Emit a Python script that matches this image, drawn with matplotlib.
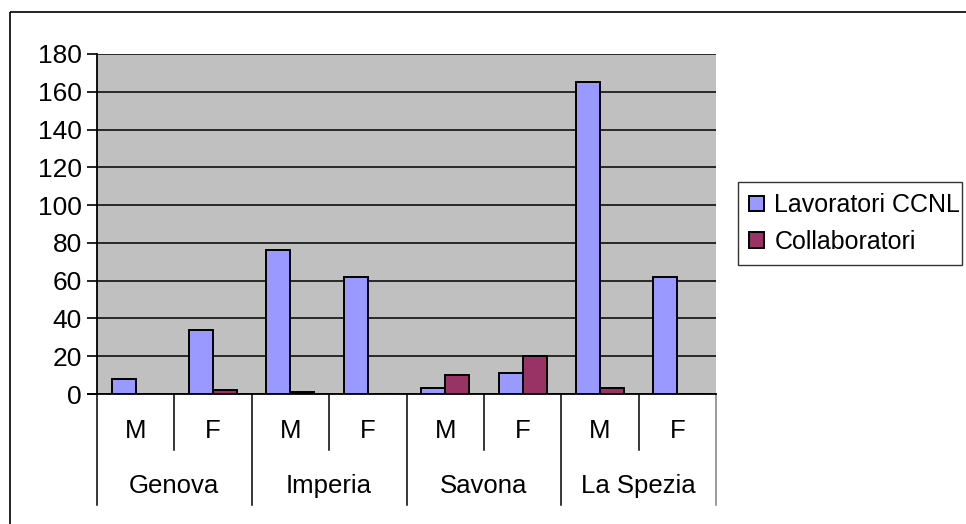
import numpy as np
import matplotlib
matplotlib.use('Agg')
import matplotlib.pyplot as plt
from matplotlib.patches import Rectangle

###############################################################################
# Data
###############################################################################
groups = ['Genova', 'Imperia', 'Savona', 'La Spezia']
sexes = ['M', 'F']
lavoratori = [8, 34, 76, 62, 3, 11, 165, 62]
collaboratori = [0, 2, 1, 0, 10, 20, 3, 0]
series = ['Lavoratori CCNL', 'Collaboratori']
yTicks = [0, 20, 40, 60, 80, 100, 120, 140, 160, 180]

###############################################################################
# Figure
###############################################################################
plt.rcParams['font.family'] = ['Liberation Sans', 'DejaVu Sans']
(W, H) = (966, 524)
fig = plt.figure(figsize=(W/100, H/100), dpi=100)
# outer frame (only top and left edges visible) -------------------------------
fig.patches.append(Rectangle(
    (10/W, 1-12/H), (W+20)/W, -(H+20)/H, transform=fig.transFigure,
    fill=False, edgecolor='k', lw=1.2, clip_on=False
))
(x0, x1, y0, y1) = (97, 716, 394, 54)
ax = fig.add_axes([x0/W, 1-y0/H, (x1-x0)/W, (y0-y1)/H])
ax.set_facecolor('#C0C0C0')

# bars ------------------------------------------------------------------------
xPos = np.arange(len(lavoratori))
bw = 0.31
ax.bar(xPos-bw/2, lavoratori, bw, color='#9999FF', edgecolor='k', lw=1.4,
       label=series[0], zorder=3)
ax.bar(xPos+bw/2, collaboratori, bw, color='#993366', edgecolor='k', lw=1.4,
       label=series[1], zorder=3)

# axes ------------------------------------------------------------------------
ax.set_xlim(-0.5, len(lavoratori)-0.5)
ax.set_ylim(0, 180)
ax.set_yticks(yTicks)
ax.tick_params(axis='y', labelsize=19, length=7, width=1.2, direction='out',
               pad=4)
ax.set_xticks([])
ax.yaxis.grid(True, color='k', lw=1.1, zorder=1)
ax.set_axisbelow(True)
for s in ['top', 'right']:
    ax.spines[s].set_visible(False)
ax.spines['left'].set_linewidth(1.3)
ax.spines['bottom'].set_linewidth(1.3)
# extend baseline a bit left, like a tick
ax.plot([-0.62, -0.5], [0, 0], color='k', lw=1.3, clip_on=False)

# category axis (two levels) --------------------------------------------------
trans = ax.get_xaxis_transform()
(rowMid, rowBot) = (-(450-394)/340, -(505-394)/340)
for i in range(len(lavoratori)+1):
    yEnd = rowBot if i % 2 == 0 else rowMid
    color = 'k' if i < len(lavoratori) else '#808080'
    ax.plot([i-0.5, i-0.5], [0, yEnd], color=color, lw=1.1,
            transform=trans, clip_on=False)
for i in range(len(lavoratori)):
    ax.text(i, -(431-394)/340, sexes[i % 2], transform=trans,
            ha='center', va='center', fontsize=18.5)
for (j, g) in enumerate(groups):
    ax.text(2*j+0.5, -(486-394)/340, g, transform=trans,
            ha='center', va='center', fontsize=18.5)

# legend ----------------------------------------------------------------------
leg = ax.legend(
    loc='upper left', bbox_to_anchor=(738/W, 1-267/H, (962-738)/W, (267-182)/H),
    bbox_transform=fig.transFigure, mode='expand', fontsize=18,
    frameon=True, fancybox=False, edgecolor='k', borderaxespad=0,
    handlelength=0.6, handleheight=0.6, handletextpad=0.4,
    labelspacing=0.5, borderpad=0.45
)
leg.get_frame().set_linewidth(1.0)

plt.savefig('out.png', dpi=100)
